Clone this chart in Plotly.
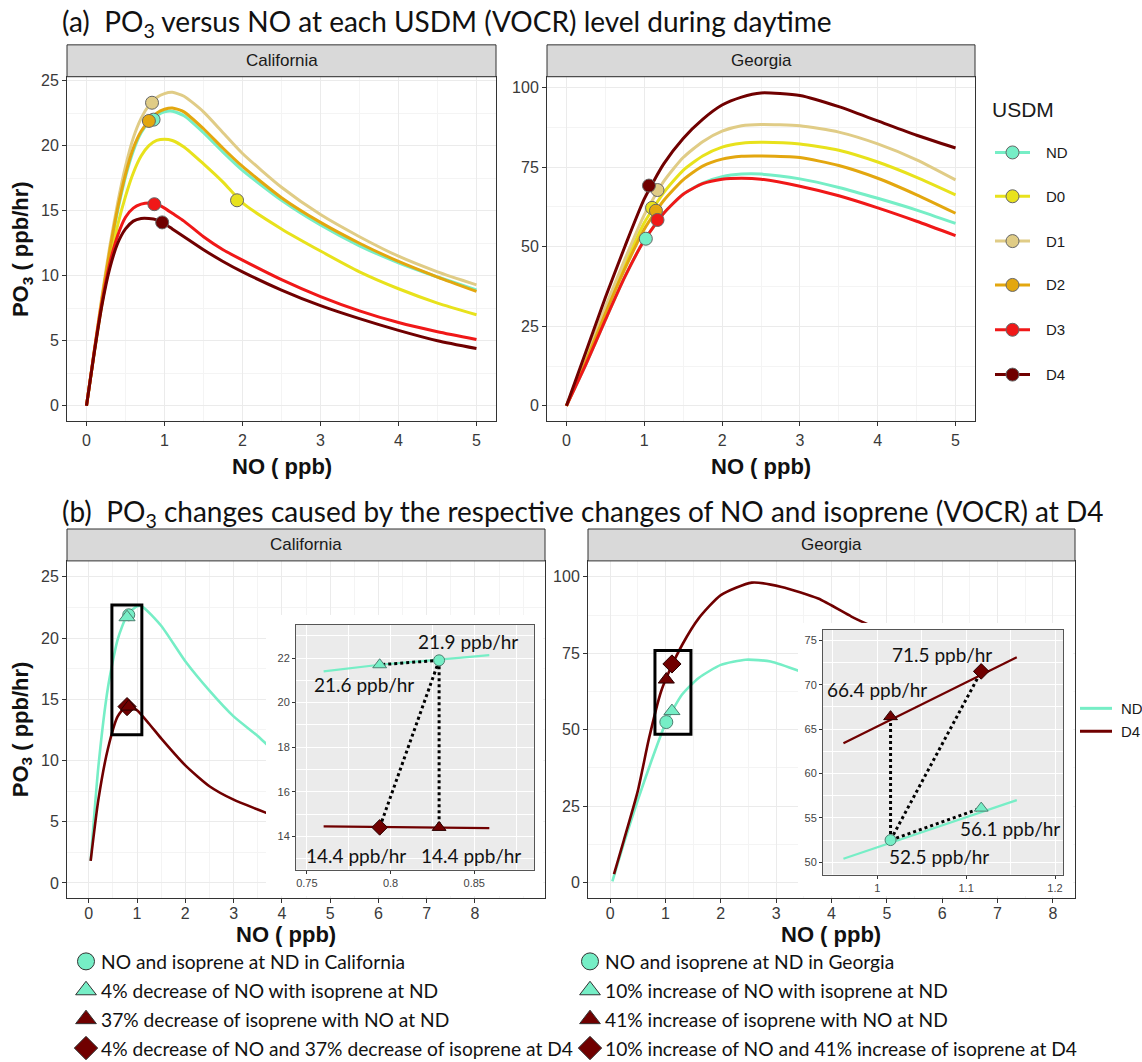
import plotly.graph_objects as go

W, H = 1142, 1062

# ---------------- data: panel (a) ----------------
levels = ["ND", "D0", "D1", "D2", "D3", "D4"]

ca_no = [0, 0.1, 0.2, 0.3, 0.4, 0.5, 0.6, 0.7, 0.8, 0.9, 1.0, 1.1, 1.25, 1.5, 1.75, 2.0, 2.5, 3.0, 3.5, 4.0, 4.5, 5.0]
ca_nd = [0, 4.2, 8.2, 11.8, 15.0, 17.6, 19.6, 21.0, 21.8, 22.3, 22.6, 22.65, 22.3, 21.0, 19.5, 18.1, 15.8, 13.9, 12.3, 11.0, 9.9, 8.9]
ca_d0 = [0, 4.1, 7.9, 11.1, 13.9, 16.1, 17.9, 19.2, 20.0, 20.4, 20.5, 20.4, 19.9, 18.6, 17.2, 15.6, 13.6, 11.9, 10.3, 9.0, 7.9, 7.0]
ca_d1 = [0, 4.3, 8.5, 12.3, 15.6, 18.4, 20.6, 22.1, 23.1, 23.7, 24.0, 24.1, 23.8, 22.6, 21.0, 19.4, 16.8, 14.7, 13.0, 11.5, 10.3, 9.3]
ca_d2 = [0, 4.2, 8.3, 12.0, 15.2, 17.8, 19.8, 21.1, 21.9, 22.5, 22.8, 22.9, 22.6, 21.3, 19.8, 18.4, 16.0, 14.1, 12.5, 11.1, 9.9, 8.8]
ca_d3 = [0, 4.2, 8.0, 11.0, 13.1, 14.5, 15.2, 15.5, 15.6, 15.5, 15.2, 14.8, 14.2, 13.0, 12.0, 11.2, 9.7, 8.4, 7.3, 6.4, 5.7, 5.1]
ca_d4 = [0, 4.1, 7.8, 10.6, 12.5, 13.6, 14.2, 14.4, 14.4, 14.3, 14.0, 13.6, 13.0, 12.0, 11.1, 10.3, 8.9, 7.7, 6.7, 5.8, 5.0, 4.4]

ga_no = [0, 0.25, 0.5, 0.75, 1.0, 1.25, 1.5, 1.75, 2.0, 2.25, 2.5, 3.0, 3.5, 4.0, 4.5, 5.0]
ga_nd = [0, 13, 27, 40.5, 52, 60.5, 66.5, 70, 72, 72.8, 72.8, 71.3, 68.6, 65.2, 61.5, 57.3]
ga_d0 = [0, 14.5, 30, 44.5, 57.5, 67, 74, 78.5, 81.3, 82.5, 82.8, 82.3, 80.3, 76.6, 71.8, 66.3]
ga_d1 = [0, 15, 31, 46, 60, 70.5, 78, 83, 86.3, 88, 88.4, 88, 86, 82.3, 77.3, 71]
ga_d2 = [0, 14, 29, 43, 55.5, 64.5, 71, 75.3, 77.5, 78.4, 78.5, 78, 75.5, 71.5, 66.3, 60.5]
ga_d3 = [0, 13, 27, 40.5, 52, 60.5, 66.5, 69.8, 71.2, 71.5, 71.2, 69, 66, 62.2, 58, 53.5]
ga_d4 = [0, 17, 34, 50, 65, 76, 84, 90, 94.5, 97, 98.3, 97.5, 94, 89.5, 85, 81]

# daytime mean points (ND, D0, D1, D2, D3, D4)
ca_mark_no = [0.86, 1.93, 0.84, 0.80, 0.87, 0.97]
ca_mark_po3 = [22.0, 15.8, 23.3, 21.9, 15.5, 14.1]
ga_mark_no = [1.02, 1.10, 1.17, 1.15, 1.17, 1.06]
ga_mark_po3 = [52.5, 62.2, 67.8, 61.3, 58.4, 69.2]

# ---------------- data: panel (b) ----------------
cab_nd_no = [0.04, 0.2, 0.4, 0.6, 0.8, 1.0, 1.1, 1.5, 2.0, 2.5, 3.0, 3.5, 3.69]
cab_nd_po3 = [1.8, 9.5, 16.0, 19.9, 21.9, 22.6, 22.6, 21.0, 18.1, 15.7, 13.6, 12.0, 11.3]
cab_d4_no = [0.04, 0.2, 0.4, 0.6, 0.8, 1.0, 1.25, 1.5, 2.0, 2.5, 3.0, 3.5, 3.69]
cab_d4_po3 = [1.8, 6.8, 11.0, 13.6, 14.5, 14.1, 13.0, 11.8, 9.6, 7.9, 6.8, 6.0, 5.7]

gab_nd_no = [0.04, 0.25, 0.5, 0.75, 1.0, 1.3, 1.6, 2.0, 2.45, 2.9, 3.43]
gab_nd_po3 = [0.4, 13, 27, 40, 52, 61.5, 66.9, 71.2, 72.9, 72.3, 69.1]
gab_d4_no = [0.07, 0.25, 0.5, 0.7, 0.92, 1.06, 1.3, 1.6, 2.0, 2.56, 3.1, 3.76, 4.36, 4.66]
gab_d4_po3 = [2.8, 14, 30, 47, 62.5, 68.8, 77.7, 86.4, 94.0, 98.1, 96.7, 92.9, 87.0, 84.4]

# zoomed-in curves (insets)
cai_nd_no = [0.760, 0.7935, 0.829, 0.859]
cai_nd_po3 = [21.40, 21.70, 21.93, 22.13]
cai_d4_no = [0.760, 0.859]
cai_d4_po3 = [14.45, 14.37]
gai_nd_no = [0.962, 1.157]
gai_nd_po3 = [50.4, 57.0]
gai_d4_no = [0.962, 1.157]
gai_d4_po3 = [63.4, 73.1]

# scenarios: ND point, NO change only, isoprene change only, both changed
ca_scen_no = [0.829, 0.7935, 0.829, 0.7935]
ca_scen_po3 = [21.9, 21.7, 14.4, 14.4]
ca_scen_lab = ["21.9 ppb/hr", "21.6 ppb/hr", "14.4 ppb/hr", "14.4 ppb/hr"]
ga_scen_no = [1.015, 1.117, 1.015, 1.117]
ga_scen_po3 = [52.5, 56.1, 66.4, 71.5]
ga_scen_lab = ["52.5 ppb/hr", "56.1 ppb/hr", "66.4 ppb/hr", "71.5 ppb/hr"]

ca_legend = ["NO and isoprene at ND in California",
             "4% decrease of NO with isoprene at ND",
             "37% decrease of isoprene with NO at ND",
             "4% decrease of NO and 37% decrease of isoprene at D4"]
ga_legend = ["NO and isoprene at ND in Georgia",
             "10% increase of NO with isoprene at ND",
             "41% increase of isoprene with NO at ND",
             "10% increase of NO and 41% increase of isoprene at D4"]

# ---------------- styling ----------------
col = {"ND": "#76EEC6", "D0": "#E8E21C", "D1": "#E0CC86", "D2": "#E3A70F",
       "D3": "#F01818", "D4": "#700000"}
scen_sym = ["circle", "triangle-up", "triangle-up", "diamond"]
scen_col = [col["ND"], col["ND"], col["D4"], col["D4"]]
scen_line = ["#4d7f70", "#4d7f70", "#2a0000", "#2a0000"]

SANS = "Liberation Sans, Arial, sans-serif"
HUM = "Lato, Carlito, Calibri, sans-serif"


def xd(a, b):
    return [a / W, b / W]


def yd(top, bottom):
    return [1 - bottom / H, 1 - top / H]


def px(x):
    return x / W


def py(y):
    return 1 - y / H


def panel_axis(domain, rng, anchor, dtick=None, tickvals=None, minor_dtick=None, standoff=0):
    ax = dict(domain=domain, range=rng, anchor=anchor, zeroline=False,
              showgrid=True, gridcolor="#EBEBEB", gridwidth=1.1,
              showline=True, mirror=True, linecolor="#333333", linewidth=1,
              ticks="outside", ticklen=4, tickwidth=1, tickcolor="#333333",
              tickfont=dict(family=SANS, size=16, color="#3A3A3A"), fixedrange=True,
              ticklabelstandoff=standoff,
              minor=dict(dtick=minor_dtick, tick0=0, showgrid=True,
                         gridcolor="#F4F4F4", gridwidth=0.8, ticks=""))
    if tickvals is not None:
        ax.update(tickmode="array", tickvals=tickvals)
    else:
        ax.update(tickmode="linear", tick0=0, dtick=dtick)
    return ax


def inset_axis(domain, rng, anchor, tick0, dtick, minor_dtick):
    return dict(domain=domain, range=rng, anchor=anchor, zeroline=False,
                showgrid=True, gridcolor="white", gridwidth=1.2,
                showline=True, mirror=True, linecolor="#555555", linewidth=1,
                ticks="outside", ticklen=3, tickwidth=1, tickcolor="#333333",
                tickmode="linear", tick0=tick0, dtick=dtick,
                tickfont=dict(family=SANS, size=11, color="#444444"), fixedrange=True,
                minor=dict(tick0=tick0, dtick=minor_dtick, showgrid=True,
                           gridcolor="white", gridwidth=0.6, ticks=""))


def hidden_axis(domain, rng, anchor):
    return dict(domain=domain, range=rng, anchor=anchor, visible=False,
                showgrid=False, zeroline=False, fixedrange=True)


fig = go.Figure()

# ---- panel (a) curves
ca_curves = [ca_nd, ca_d0, ca_d1, ca_d2, ca_d3, ca_d4]
ga_curves = [ga_nd, ga_d0, ga_d1, ga_d2, ga_d3, ga_d4]
for lv, yv in zip(levels, ca_curves):
    fig.add_trace(go.Scatter(x=ca_no, y=yv, mode="lines", line=dict(color=col[lv], width=3, shape="spline", smoothing=0.6),
                             xaxis="x", yaxis="y", hoverinfo="skip"))
for lv, yv in zip(levels, ga_curves):
    fig.add_trace(go.Scatter(x=ga_no, y=yv, mode="lines", line=dict(color=col[lv], width=3, shape="spline", smoothing=0.6),
                             xaxis="x2", yaxis="y2", hoverinfo="skip"))
for i, lv in enumerate(levels):
    fig.add_trace(go.Scatter(x=[ca_mark_no[i]], y=[ca_mark_po3[i]], mode="markers",
                             marker=dict(color=col[lv], size=13, line=dict(color="#666666", width=1)),
                             xaxis="x", yaxis="y", hoverinfo="skip"))
    fig.add_trace(go.Scatter(x=[ga_mark_no[i]], y=[ga_mark_po3[i]], mode="markers",
                             marker=dict(color=col[lv], size=13, line=dict(color="#666666", width=1)),
                             xaxis="x2", yaxis="y2", hoverinfo="skip"))

# ---- panel (b) main curves
fig.add_trace(go.Scatter(x=cab_nd_no, y=cab_nd_po3, mode="lines", line=dict(color=col["ND"], width=2.6, shape="spline", smoothing=0.6),
                         xaxis="x3", yaxis="y3", hoverinfo="skip"))
fig.add_trace(go.Scatter(x=cab_d4_no, y=cab_d4_po3, mode="lines", line=dict(color=col["D4"], width=2.6, shape="spline", smoothing=0.6),
                         xaxis="x3", yaxis="y3", hoverinfo="skip"))
fig.add_trace(go.Scatter(x=gab_nd_no, y=gab_nd_po3, mode="lines", line=dict(color=col["ND"], width=2.6, shape="spline", smoothing=0.6),
                         xaxis="x4", yaxis="y4", hoverinfo="skip"))
fig.add_trace(go.Scatter(x=gab_d4_no, y=gab_d4_po3, mode="lines", line=dict(color=col["D4"], width=2.6, shape="spline", smoothing=0.6),
                         xaxis="x4", yaxis="y4", hoverinfo="skip"))
for i in [0, 3, 2, 1]:
    fig.add_trace(go.Scatter(x=[ca_scen_no[i]], y=[ca_scen_po3[i]], mode="markers",
                             marker=dict(symbol=scen_sym[i], color=scen_col[i], size=14 if i else 12,
                                         line=dict(color=scen_line[i], width=1)),
                             xaxis="x3", yaxis="y3", hoverinfo="skip"))
    fig.add_trace(go.Scatter(x=[ga_scen_no[i]], y=[ga_scen_po3[i]], mode="markers",
                             marker=dict(symbol=scen_sym[i], color=scen_col[i], size=14 if i else 13,
                                         line=dict(color=scen_line[i], width=1)),
                             xaxis="x4", yaxis="y4", hoverinfo="skip"))

# ---- cover subplots (white background of inset plots)
fig.add_trace(go.Scatter(x=[None], y=[None], xaxis="x5", yaxis="y5", hoverinfo="skip"))
fig.add_trace(go.Scatter(x=[None], y=[None], xaxis="x7", yaxis="y7", hoverinfo="skip"))

# ---- insets
def add_inset(xa, ya, nd_no, nd_po3, d4_no, d4_po3, s_no, s_po3):
    fig.add_trace(go.Scatter(x=nd_no, y=nd_po3, mode="lines", line=dict(color=col["ND"], width=2.2),
                             xaxis=xa, yaxis=ya, hoverinfo="skip"))
    fig.add_trace(go.Scatter(x=d4_no, y=d4_po3, mode="lines", line=dict(color=col["D4"], width=2.2),
                             xaxis=xa, yaxis=ya, hoverinfo="skip"))
    dx, dy = [], []
    for j in (1, 2, 3):
        dx += [s_no[0], s_no[j], None]
        dy += [s_po3[0], s_po3[j], None]
    fig.add_trace(go.Scatter(x=dx, y=dy, mode="lines", line=dict(color="black", width=3, dash="dot"),
                             xaxis=xa, yaxis=ya, hoverinfo="skip"))
    for i in [1, 2, 3, 0]:
        fig.add_trace(go.Scatter(x=[s_no[i]], y=[s_po3[i]], mode="markers",
                                 marker=dict(symbol=scen_sym[i], color=scen_col[i], size=12 if i else 11,
                                             line=dict(color=scen_line[i], width=1)),
                                 xaxis=xa, yaxis=ya, hoverinfo="skip"))

add_inset("x6", "y6", cai_nd_no, cai_nd_po3, cai_d4_no, cai_d4_po3, ca_scen_no, ca_scen_po3)
add_inset("x8", "y8", gai_nd_no, gai_nd_po3, gai_d4_no, gai_d4_po3, ga_scen_no, ga_scen_po3)

# ---- overlay (pixel space) for legend glyphs
leg_a_rows = [149, 193, 238, 282, 327, 372]
for lv, yy in zip(levels, leg_a_rows):
    fig.add_trace(go.Scatter(x=[995, 1030], y=[yy, yy], mode="lines", line=dict(color=col[lv], width=3),
                             xaxis="x9", yaxis="y9", hoverinfo="skip"))
    fig.add_trace(go.Scatter(x=[1012.5], y=[yy], mode="markers",
                             marker=dict(color=col[lv], size=13, line=dict(color="#666666", width=1)),
                             xaxis="x9", yaxis="y9", hoverinfo="skip"))
leg_b_rows = [707, 730]
for lv, yy in zip(["ND", "D4"], leg_b_rows):
    fig.add_trace(go.Scatter(x=[1080, 1112], y=[yy, yy], mode="lines", line=dict(color=col[lv], width=3),
                             xaxis="x9", yaxis="y9", hoverinfo="skip"))
bot_rows = [961, 990, 1019, 1048]
for i, yy in enumerate(bot_rows):
    for xx in (86, 590):
        fig.add_trace(go.Scatter(x=[xx], y=[yy], mode="markers",
                                 marker=dict(symbol=scen_sym[i], color=scen_col[i], size=18 if i else 17,
                                             line=dict(color="#333333", width=1)),
                                 xaxis="x9", yaxis="y9", hoverinfo="skip"))

# ---------------- layout ----------------
CA_IN_X = [0.7435, 0.8857]
CA_IN_Y = [12.5, 23.5]
GA_IN_X = [0.939, 1.209]
GA_IN_Y = [48.6, 76.2]

layout = dict(
    width=W, height=H, margin=dict(l=0, r=0, t=0, b=0),
    paper_bgcolor="white", plot_bgcolor="rgba(0,0,0,0)", showlegend=False,
    xaxis=panel_axis(xd(67, 496), [-0.25, 5.25], "y", dtick=1, minor_dtick=0.5),
    yaxis=panel_axis(yd(73, 419), [-1.2, 25.3], "x", dtick=5, minor_dtick=2.5),
    xaxis2=panel_axis(xd(547, 975), [-0.25, 5.25], "y2", dtick=1, minor_dtick=0.5),
    yaxis2=panel_axis(yd(73, 419), [-4.9, 103.4], "x2", dtick=25, minor_dtick=12.5),
    xaxis3=panel_axis(xd(67, 545), [-0.45, 9.45], "y3", tickvals=list(range(9)), minor_dtick=0.5, standoff=-3),
    yaxis3=panel_axis(yd(559, 897), [-1.2, 26.3], "x3", dtick=5, minor_dtick=2.5),
    xaxis4=panel_axis(xd(588, 1075), [-0.4, 8.4], "y4", dtick=1, minor_dtick=0.5, standoff=-3),
    yaxis4=panel_axis(yd(559, 897), [-4.9, 105.2], "x4", dtick=25, minor_dtick=12.5),
    xaxis5=hidden_axis(xd(266, 543.5), [0, 1], "y5"),
    yaxis5=hidden_axis(yd(613, 895.5), [0, 1], "x5"),
    xaxis6=inset_axis(xd(296, 534), CA_IN_X, "y6", 0.75, 0.05, 0.025),
    yaxis6=inset_axis(yd(623, 869), CA_IN_Y, "x6", 14, 2, 1),
    xaxis7=hidden_axis(xd(798, 1073.5), [0, 1], "y7"),
    yaxis7=hidden_axis(yd(621, 895.5), [0, 1], "x7"),
    xaxis8=inset_axis(xd(823, 1063), GA_IN_X, "y8", 1.0, 0.1, 0.05),
    yaxis8=inset_axis(yd(628, 874), GA_IN_Y, "x8", 50, 5, 2.5),
    xaxis9=hidden_axis([0, 1], [0, W], "y9"),
    yaxis9=hidden_axis([0, 1], [H, 0], "x9"),
)
fig.update_layout(**layout)

shapes = []
# white backgrounds of the inset plots
shapes.append(dict(type="rect", xref="x5", yref="y5", x0=0, x1=1, y0=0, y1=1,
                   fillcolor="white", line=dict(width=0), layer="below"))
shapes.append(dict(type="rect", xref="x7", yref="y7", x0=0, x1=1, y0=0, y1=1,
                   fillcolor="white", line=dict(width=0), layer="below"))
# grey inset panels
shapes.append(dict(type="rect", xref="x6", yref="y6", x0=CA_IN_X[0], x1=CA_IN_X[1], y0=CA_IN_Y[0], y1=CA_IN_Y[1],
                   fillcolor="#EBEBEB", line=dict(width=0), layer="below"))
shapes.append(dict(type="rect", xref="x8", yref="y8", x0=GA_IN_X[0], x1=GA_IN_X[1], y0=GA_IN_Y[0], y1=GA_IN_Y[1],
                   fillcolor="#EBEBEB", line=dict(width=0), layer="below"))
# zoom boxes on main panels (b)
shapes.append(dict(type="rect", xref="x3", yref="y3", x0=0.48, x1=1.10, y0=12.1, y1=22.7,
                   line=dict(color="black", width=3), fillcolor="rgba(0,0,0,0)", layer="above"))
shapes.append(dict(type="rect", xref="x4", yref="y4", x0=0.81, x1=1.46, y0=48.5, y1=75.9,
                   line=dict(color="black", width=3), fillcolor="rgba(0,0,0,0)", layer="above"))
# facet strips
strips = [(67, 496, 41, 73, "California"), (547, 975, 41, 73, "Georgia"),
          (67, 545, 527, 559, "California"), (588, 1075, 527, 559, "Georgia")]
annotations = []
for x0, x1, y0, y1, name in strips:
    shapes.append(dict(type="rect", xref="paper", yref="paper", x0=px(x0), x1=px(x1), y0=py(y1), y1=py(y0),
                       fillcolor="#D9D9D9", line=dict(color="#333333", width=1), layer="above"))
    annotations.append(dict(x=px((x0 + x1) / 2), y=py((y0 + y1) / 2), xref="paper", yref="paper",
                            text=name, showarrow=False, xanchor="center", yanchor="middle",
                            font=dict(family=SANS, size=17, color="#1A1A1A")))
fig.update_layout(shapes=shapes)

# titles
annotations.append(dict(x=px(60), y=py(19), xref="paper", yref="paper", showarrow=False,
                        xanchor="left", yanchor="middle",
                        text="(a)\u00a0\u00a0PO<sub>3</sub> versus NO at each USDM (VOCR) level during daytime",
                        font=dict(family=HUM, size=28, color="#111111")))
annotations.append(dict(x=px(60), y=py(511), xref="paper", yref="paper", showarrow=False,
                        xanchor="left", yanchor="middle",
                        text="(b)\u00a0\u00a0PO<sub>3</sub> changes caused by the respective changes of NO and isoprene (VOCR) at D4",
                        font=dict(family=HUM, size=28, color="#111111")))
# axis titles
for cx, cy in [(281.5, 464), (761, 464), (286, 934), (831, 934)]:
    annotations.append(dict(x=px(cx), y=py(cy), xref="paper", yref="paper", showarrow=False,
                            xanchor="center", yanchor="middle", text="<b>NO ( ppb)</b>",
                            font=dict(family=SANS, size=22, color="#111111")))
for cy in (246, 728):
    annotations.append(dict(x=px(22), y=py(cy), xref="paper", yref="paper", showarrow=False,
                            xanchor="center", yanchor="middle", textangle=-90,
                            text="<b>PO<sub>3</sub> ( ppb/hr)</b>",
                            font=dict(family=SANS, size=22, color="#111111")))
# legend (a)
annotations.append(dict(x=px(990), y=py(106), xref="paper", yref="paper", showarrow=False,
                        xanchor="left", yanchor="middle", text="USDM",
                        font=dict(family=SANS, size=21, color="#1A1A1A")))
for lv, yy in zip(levels, leg_a_rows):
    annotations.append(dict(x=px(1044), y=py(yy), xref="paper", yref="paper", showarrow=False,
                            xanchor="left", yanchor="middle", text=lv,
                            font=dict(family=SANS, size=15, color="#1A1A1A")))
for lv, yy in zip(["ND", "D4"], leg_b_rows):
    annotations.append(dict(x=px(1119), y=py(yy), xref="paper", yref="paper", showarrow=False,
                            xanchor="left", yanchor="middle", text=lv,
                            font=dict(family=SANS, size=15, color="#1A1A1A")))
# bottom legends
for txt, yy in zip(ca_legend, bot_rows):
    annotations.append(dict(x=px(99), y=py(yy), xref="paper", yref="paper", showarrow=False,
                            xanchor="left", yanchor="middle", text=txt,
                            font=dict(family=HUM, size=19.2, color="#111111")))
for txt, yy in zip(ga_legend, bot_rows):
    annotations.append(dict(x=px(603), y=py(yy), xref="paper", yref="paper", showarrow=False,
                            xanchor="left", yanchor="middle", text=txt,
                            font=dict(family=HUM, size=19.2, color="#111111")))
# inset value labels
ca_lab_xy = [(0.846, 22.76), (0.7839, 20.8), (0.848, 13.15), (0.7792, 13.15)]
ga_lab_xy = [(1.069, 50.6), (1.149, 53.8), (1.0, 69.5), (1.073, 73.4)]
for (lx, ly), txt in zip(ca_lab_xy, ca_scen_lab):
    annotations.append(dict(x=lx, y=ly, xref="x6", yref="y6", showarrow=False,
                            xanchor="center", yanchor="middle", text=txt,
                            font=dict(family=HUM, size=19, color="#111111")))
for (lx, ly), txt in zip(ga_lab_xy, ga_scen_lab):
    annotations.append(dict(x=lx, y=ly, xref="x8", yref="y8", showarrow=False,
                            xanchor="center", yanchor="middle", text=txt,
                            font=dict(family=HUM, size=19, color="#111111")))
fig.update_layout(annotations=annotations)

fig.write_html("out.html")
